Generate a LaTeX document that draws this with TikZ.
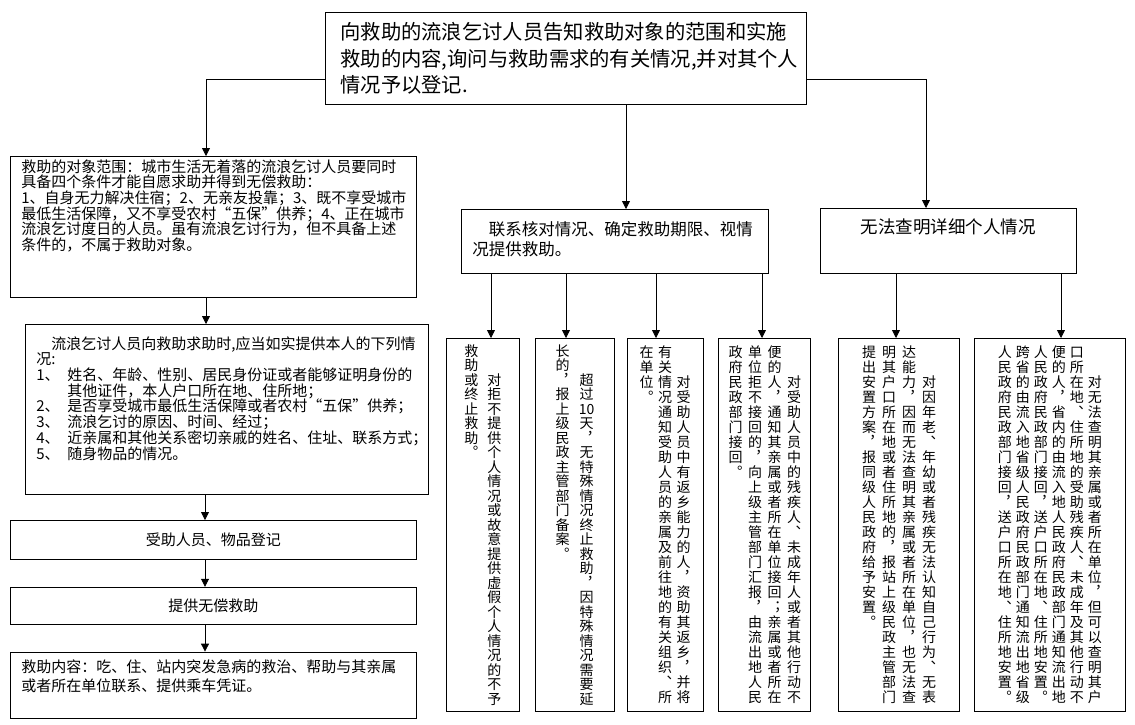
\documentclass[tikz,border=0pt]{standalone}
\usepackage{fontspec}
\setmainfont{Noto Sans CJK SC}
\newfontfamily\vfont[RawFeature=+vert]{Noto Sans CJK SC}
\usetikzlibrary{arrows.meta,positioning}
\newdimen\vpitch \vpitch=15pt
\let\vcolend\relax
\def\vendmark{\vcolend}
\def\vcolstep#1{\def\vtmp{#1}\ifx\vtmp\vendmark\else\hbox to 1em{\hss#1\hss}\expandafter\vcolstep\fi}
\newcommand{\vcol}[1]{\vtop{\baselineskip=\vpitch\lineskiplimit=-\maxdimen\vcolstep#1\vcolend}}
\newcommand{\boxtext}[3]{\parbox[c][#2][t]{#1}{\raggedright #3}}
\newcommand{\itm}[1]{\makebox[31pt][l]{#1}}
\tikzset{
  box/.style  ={draw,line width=.8pt,anchor=north west,inner sep=0pt},
  tbox/.style ={box,font=\fontsize{15}{15.7}\selectfont},
  vtext/.style={box,minimum height=373pt,font={\vfont\fontsize{14}{15}\selectfont\vpitch=#1\relax}},
  vtext/.default=15pt,
  ar/.style   ={-{Triangle[length=8pt,width=8pt]},line width=.8pt},
}

\begin{document}
\begin{tikzpicture}[x=1pt,y=-1pt]
\useasboundingbox (0,0) rectangle (1135,724);
\node[box,minimum width=481pt,minimum height=92pt,text width=451pt,align=left,
      font=\fontsize{20.3}{26.5}\selectfont] (info) at (325,12)
  {向救助的流浪乞讨人员告知救助对象的范围和实施\\救助的内容,询问与救助需求的有关情况,并对其个人\\情况予以登记.};
% left column
\node[tbox,minimum width=406pt,minimum height=141pt] (scope) at (10,156)
  {\boxtext{384pt}{135pt}{救助的对象范围：城市生活无着落的流浪乞讨人员要同时\\
   具备四个条件才能自愿求助并得到无偿救助：\\
   1、自身无力解决住宿；2、无亲友投靠；3、既不享受城市\\
   最低生活保障，又不享受农村“五保”供养；4、正在城市\\
   流浪乞讨度日的人员。虽有流浪乞讨行为，但不具备上述\\
   条件的，不属于救助对象。}};
\node[tbox,minimum width=403pt,minimum height=170pt] (apply) at (25,324)
  {\boxtext{381pt}{146pt}{\hspace*{15pt}流浪乞讨人员向救助求助时,应当如实提供本人的下列情\\
   况:\\
   \itm{1、}姓名、年龄、性别、居民身份证或者能够证明身份的\\
   \hspace*{31pt}其他证件，本人户口所在地、住所地；\\
   \itm{2、}是否享受城市最低生活保障或者农村“五保”供养；\\
   \itm{3、}流浪乞讨的原因、时间、经过；\\
   \itm{4、}近亲属和其他关系密切亲戚的姓名、住址、联系方式；\\
   \itm{5、}随身物品的情况。}};
\node[tbox,minimum width=406pt,minimum height=39pt] (reg) at (10,520) {受助人员、物品登记};
\node[tbox,minimum width=406pt,minimum height=37pt,below=27pt of reg] (aid) {提供无偿救助};
\node[tbox,minimum width=406pt,minimum height=66pt,below=27pt of aid,font=\fontsize{15}{18.5}\selectfont] (content)
  {\boxtext{384pt}{50pt}{救助内容：吃、住、站内突发急病的救治、帮助与其亲属\\或者所在单位联系、提供乘车凭证。}};
% middle and right
\node[box,minimum width=307pt,minimum height=64pt,font=\fontsize{16.5}{20}\selectfont] (verify) at (461,209)
  {\boxtext{285pt}{40pt}{\hspace*{16.5pt}联系核对情况、确定救助期限、视情\\况提供救助。}};
\node[box,minimum width=256pt,minimum height=65pt,font=\fontsize{17.5}{20}\selectfont] (unknown) at (820,208)
  {\boxtext{236pt}{45pt}{\centering 无法查明详细个人情况}};
% vertical boxes
\node[vtext=14.5pt,minimum width=73pt] (refuse) at (446,338)
  {\vcol{救助或终止救助。}\kern9pt\vcol{{}{}对拒不提供个人情况或故意提供虚假个人情况的不予}};
\node[vtext=14.5pt,minimum width=79pt,right=15pt of refuse] (overdue)
  {\vcol{长的，报上级民政主管部门备案。}\kern10pt\vcol{{}{}超过{10}天，无特殊情况终止救助，因特殊情况需要延}};
\node[vtext,minimum width=76pt,right=12pt of overdue] (home)
  {\vcol{在单位。}\kern4.5pt\vcol{有关情况通知受助人员的亲属及前往地的有关组织、所}\kern4.5pt\vcol{{}{}对受助人员中有返乡能力的人，资助其返乡，并将}};
\node[vtext,minimum width=92pt,right=15pt of home] (disabled)
  {\vcol{政府民政部门接回。}\kern5.5pt\vcol{单位拒不接回的，向上级主管部门汇报，由流出地人民}\kern5.5pt\vcol{便的人，通知其亲属或者所在单位接回；亲属或者所在}\kern5.5pt\vcol{{}{}对受助人员中的残疾人、未成年人或者其他行动不}};
\node[vtext,minimum width=121pt,right=27pt of disabled] (incap)
  {\vcol{提出安置方案，报同级人民政府给予安置。}\kern6pt\vcol{明其户口所在地或者住所地的，报站上级民政主管部门}\kern6pt\vcol{达能力，因而无法查明其亲属或者所在单位，也无法查}\kern6pt\vcol{{}{}对因年老、年幼或者残疾无法认知自己行为、无表}};
\node[vtext,minimum width=151pt,right=14pt of incap] (untraced)
  {\vcol{人民政府民政部门接回，送户口所在地、住所地安置。}\kern4pt\vcol{跨省的由流入地省级人民政府民政部门通知流出地省级}\kern4pt\vcol{人民政府民政部门接回，送户口所在地、住所地安置。}\kern4pt\vcol{便的人，省内的由流入地人民政府民政部门通知流出地}\kern4pt\vcol{口所在地、住所地的受助残疾人、未成年及其他行动不}\kern4pt\vcol{{}{}对无法查明其亲属或者所在单位，但可以查明其户}};
% connectors
\draw[ar] (info.west |- 0,79) -| (206,0 |- scope.north);
\draw[ar] (info.east |- 0,79) -| (926,0 |- unknown.north);
\draw[ar] (626,0 |- info.south) -- (626,0 |- verify.north);
\draw[ar] (206,0 |- scope.south) -- (206,0 |- apply.north);
\draw[ar] (205,0 |- apply.south) -- (205,0 |- reg.north);
\draw[ar] (205,0 |- reg.south) -- (205,0 |- aid.north);
\draw[ar] (205,0 |- aid.south) -- (205,0 |- content.north);
\draw[ar] (491,0 |- verify.south) -- (491,0 |- refuse.north);
\draw[ar] (566,0 |- verify.south) -- (566,0 |- overdue.north);
\draw[ar] (656,0 |- verify.south) -- (656,0 |- home.north);
\draw[ar] (762,0 |- verify.south) -- (762,0 |- disabled.north);
\draw[ar] (896,0 |- unknown.south) -- (896,0 |- incap.north);
\draw[ar] (1061,0 |- unknown.south) -- (1061,0 |- untraced.north);
\end{tikzpicture}
\end{document}
